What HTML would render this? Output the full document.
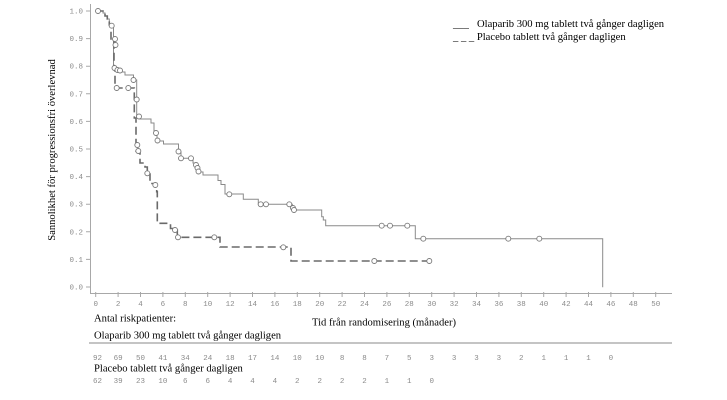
<!DOCTYPE html>
<html><head><meta charset="utf-8"><style>
html,body{margin:0;padding:0;background:#fff;}
svg{display:block;}
.s{font-family:"Liberation Serif",serif;font-size:10.6px;fill:#000;}
.m{font-family:"Liberation Mono","DejaVu Sans Mono",monospace;font-size:7.5px;fill:#8a8a8a;}
</style></head><body>
<svg width="727" height="400" viewBox="0 0 727 400" xmlns="http://www.w3.org/2000/svg">
<rect width="727" height="400" fill="#fff"/>
<g stroke="#a8a8a8" stroke-width="1" fill="none">
<line x1="90.5" y1="4" x2="90.5" y2="293.5"/>
<line x1="90" y1="293.5" x2="672" y2="293.5"/>
<path d="M86,11H90.5M86,38.6H90.5M86,66.2H90.5M86,93.8H90.5M86,121.4H90.5M86,149H90.5M86,176.6H90.5M86,204.2H90.5M86,231.8H90.5M86,259.4H90.5M86,287H90.5"/>
<path d="M95.7,292V297M118.1,292V297M140.5,292V297M162.9,292V297M185.3,292V297M207.7,292V297M230.1,292V297M252.5,292V297M274.9,292V297M297.3,292V297M319.7,292V297M342.1,292V297M364.5,292V297M386.9,292V297M409.3,292V297M431.7,292V297M454.1,292V297M476.5,292V297M498.9,292V297M521.3,292V297M543.7,292V297M566.1,292V297M588.5,292V297M610.9,292V297M633.3,292V297M655.7,292V297"/>
</g>
<g class="m" text-anchor="end">
<text x="83" y="13.5">1.0</text>
<text x="83" y="41.1">0.9</text>
<text x="83" y="68.7">0.8</text>
<text x="83" y="96.3">0.7</text>
<text x="83" y="123.9">0.6</text>
<text x="83" y="151.5">0.5</text>
<text x="83" y="179.1">0.4</text>
<text x="83" y="206.7">0.3</text>
<text x="83" y="234.3">0.2</text>
<text x="83" y="261.9">0.1</text>
<text x="83" y="289.5">0.0</text>
</g>
<g class="m" text-anchor="middle">
<text x="95.7" y="306">0</text><text x="118.1" y="306">2</text><text x="140.5" y="306">4</text><text x="162.9" y="306">6</text><text x="185.3" y="306">8</text><text x="207.7" y="306">10</text><text x="230.1" y="306">12</text><text x="252.5" y="306">14</text><text x="274.9" y="306">16</text><text x="297.3" y="306">18</text><text x="319.7" y="306">20</text><text x="342.1" y="306">22</text><text x="364.5" y="306">24</text><text x="386.9" y="306">26</text><text x="409.3" y="306">28</text><text x="431.7" y="306">30</text><text x="454.1" y="306">32</text><text x="476.5" y="306">34</text><text x="498.9" y="306">36</text><text x="521.3" y="306">38</text><text x="543.7" y="306">40</text><text x="566.1" y="306">42</text><text x="588.5" y="306">44</text><text x="610.9" y="306">46</text><text x="633.3" y="306">48</text><text x="655.7" y="306">50</text>
</g>
<text class="s" transform="translate(55,150) rotate(-90)" text-anchor="middle">Sannolikhet för progressionsfri överlevnad</text>
<text class="s" x="453" y="27">___</text>
<text class="s" x="477" y="27">Olaparib 300 mg tablett två gånger dagligen</text>
<text class="s" x="453" y="40">_ _ _ Placebo tablett två gånger dagligen</text>
<path fill="none" stroke="#8a8a8a" stroke-width="1" d="M95.7,11H103V13H105V16H107.3V19H109.3V24.5H113.5V69H121V72H125V75H133.5V80H136.7V116H140V119H151V123H154V133H157V141H163.5V144H178.5V152H181V158.3H193V163H197.5V172H203V175H218V180.5H221V184.5H225V194H243.3V199.3H258.3V204.3H292.3V210H321.7V216.7H323.3V220H325.7V225.7H415.3V238.7H602.7V287.3"/>
<path fill="none" stroke="#6a6a6a" stroke-width="1.6" stroke-dasharray="8,4" d="M95.7,11H103V13H105V16H107.3V19H109.3V25H111V40H114V68.5H115V88H134.3V118H136V151H140V163H145V167H147.3V174H150V183.5H156.7V191.7H157.3V223.3H170.5V228.5H177.3V237.3H220V247H291V261H429.3"/>
<g fill="#fff" stroke="#7a7a7a" stroke-width="0.9">
<circle cx="98" cy="11" r="2.5"/><circle cx="111.7" cy="25.7" r="2.5"/><circle cx="115" cy="39" r="2.5"/><circle cx="115.5" cy="45" r="2.5"/><circle cx="114.5" cy="68" r="2.5"/><circle cx="117.5" cy="70" r="2.5"/><circle cx="120" cy="70.5" r="2.5"/><circle cx="133.5" cy="80" r="2.5"/><circle cx="136.7" cy="99.5" r="2.5"/><circle cx="139" cy="116.5" r="2.5"/><circle cx="156" cy="133" r="2.5"/><circle cx="157.5" cy="140.5" r="2.5"/><circle cx="178.5" cy="151.5" r="2.5"/><circle cx="181" cy="158.3" r="2.5"/><circle cx="191" cy="158.3" r="2.5"/><circle cx="196" cy="165" r="2.5"/><circle cx="197.5" cy="168" r="2.5"/><circle cx="198.5" cy="171.5" r="2.5"/><circle cx="229.3" cy="194.3" r="2.5"/><circle cx="260.7" cy="204.3" r="2.5"/><circle cx="266" cy="204.3" r="2.5"/><circle cx="289.3" cy="204.3" r="2.5"/><circle cx="293" cy="208" r="2.5"/><circle cx="294" cy="210" r="2.5"/><circle cx="381.7" cy="225.7" r="2.5"/><circle cx="390" cy="225.7" r="2.5"/><circle cx="407.3" cy="225.7" r="2.5"/><circle cx="423.3" cy="238.7" r="2.5"/><circle cx="508.3" cy="238.7" r="2.5"/><circle cx="539.3" cy="238.7" r="2.5"/>
<circle cx="116.7" cy="88" r="2.5"/><circle cx="128.3" cy="88" r="2.5"/><circle cx="137.3" cy="145" r="2.5"/><circle cx="138.3" cy="151" r="2.5"/><circle cx="147.3" cy="173.3" r="2.5"/><circle cx="155.3" cy="185" r="2.5"/><circle cx="175" cy="230" r="2.5"/><circle cx="178" cy="237.3" r="2.5"/><circle cx="214.3" cy="237.3" r="2.5"/><circle cx="283.3" cy="247.3" r="2.5"/><circle cx="374.3" cy="261" r="2.5"/><circle cx="429.3" cy="261" r="2.5"/>
</g>
<text class="s" x="94" y="321.5">Antal riskpatienter:</text>
<text class="s" x="312" y="325.5">Tid från randomisering (månader)</text>
<text class="s" x="94" y="338.5">Olaparib 300 mg tablett två gånger dagligen</text>
<line x1="89" y1="343" x2="672" y2="343" stroke="#c4c4c4" stroke-width="2"/>
<g class="m" text-anchor="middle">
<text x="97.5" y="360">92</text><text x="118.1" y="360">69</text><text x="140.5" y="360">50</text><text x="162.9" y="360">41</text><text x="185.3" y="360">34</text><text x="207.7" y="360">24</text><text x="230.1" y="360">18</text><text x="252.5" y="360">17</text><text x="274.9" y="360">14</text><text x="297.3" y="360">10</text><text x="319.7" y="360">10</text><text x="342.1" y="360">8</text><text x="364.5" y="360">8</text><text x="386.9" y="360">7</text><text x="409.3" y="360">5</text><text x="431.7" y="360">3</text><text x="454.1" y="360">3</text><text x="476.5" y="360">3</text><text x="498.9" y="360">3</text><text x="521.3" y="360">2</text><text x="543.7" y="360">1</text><text x="566.1" y="360">1</text><text x="588.5" y="360">1</text><text x="610.9" y="360">0</text>
</g>
<text class="s" x="94" y="371.5">Placebo tablett två gånger dagligen</text>
<g class="m" text-anchor="middle">
<text x="97.5" y="383">62</text><text x="118.1" y="383">39</text><text x="140.5" y="383">23</text><text x="162.9" y="383">10</text><text x="185.3" y="383">6</text><text x="207.7" y="383">6</text><text x="230.1" y="383">4</text><text x="252.5" y="383">4</text><text x="274.9" y="383">4</text><text x="297.3" y="383">2</text><text x="319.7" y="383">2</text><text x="342.1" y="383">2</text><text x="364.5" y="383">2</text><text x="386.9" y="383">1</text><text x="409.3" y="383">1</text><text x="431.7" y="383">0</text>
</g>
</svg>
</body></html>
